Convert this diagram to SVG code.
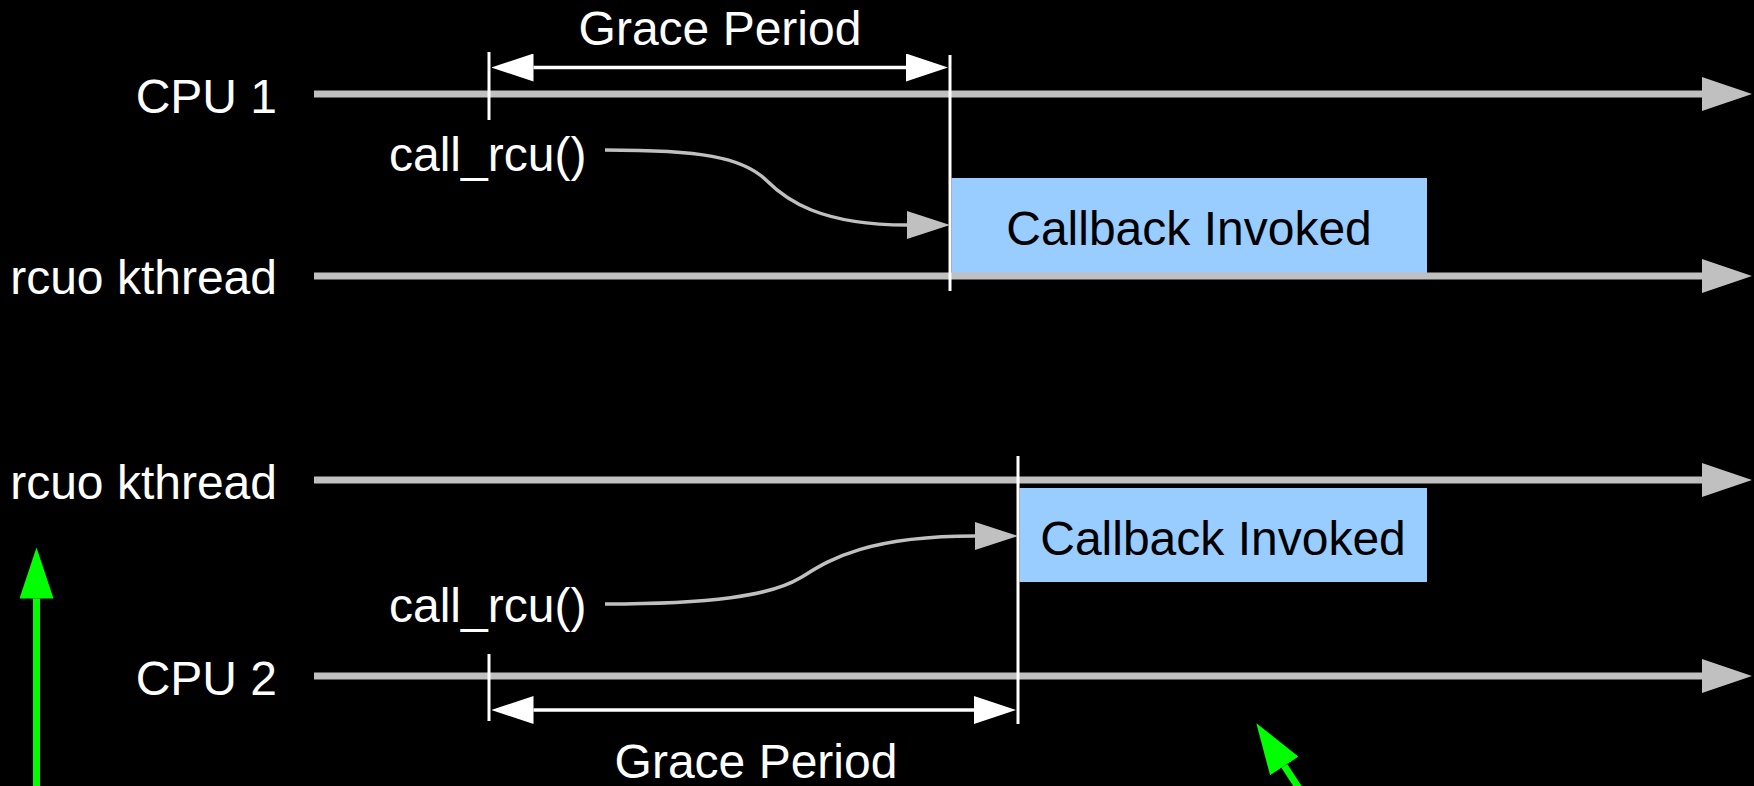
<svg xmlns="http://www.w3.org/2000/svg" width="1754" height="786" viewBox="0 0 1754 786">
  <style>
    text { font-family: "Liberation Sans", Arial, sans-serif; font-size: 48px; }
    .label { fill: #ffffff; }
    .lane-label { fill: #ffffff; text-anchor: end; }
    .box-text { fill: #000000; text-anchor: middle; }
    .mid { text-anchor: middle; }
    .timeline { stroke: #c0c0c0; stroke-width: 7; fill: none; marker-end: url(#bigGray); }
    .tick { stroke: #ffffff; stroke-width: 3; }
    .span { stroke: #ffffff; stroke-width: 3.5; fill: none; marker-start: url(#smallWhite); marker-end: url(#smallWhite); }
    .handoff { stroke: #c0c0c0; stroke-width: 3.5; fill: none; marker-end: url(#smallGray); }
    .pointer { stroke: #00ff00; stroke-width: 7; fill: none; marker-end: url(#bigGreen); }
    .cb-box { fill: #99ccff; }
  </style>
  <defs>
    <marker id="bigGray" markerUnits="userSpaceOnUse" viewBox="0 0 50 34" markerWidth="50" markerHeight="34" refX="0" refY="17" orient="auto">
      <path d="M0,0 L50,17 L0,34 Z" fill="#c0c0c0"/>
    </marker>
    <marker id="bigGreen" markerUnits="userSpaceOnUse" viewBox="0 0 51 34" markerWidth="51" markerHeight="34" refX="0" refY="17" orient="auto">
      <path d="M0,0 L51,17 L0,34 Z" fill="#00ff00"/>
    </marker>
    <marker id="smallWhite" markerUnits="userSpaceOnUse" viewBox="0 0 42 28" markerWidth="42" markerHeight="28" refX="0" refY="14" orient="auto-start-reverse">
      <path d="M0,0 L42,14 L0,28 Z" fill="#ffffff"/>
    </marker>
    <marker id="smallGray" markerUnits="userSpaceOnUse" viewBox="0 0 43 28" markerWidth="43" markerHeight="28" refX="0" refY="14" orient="auto">
      <path d="M0,0 L43,14 L0,28 Z" fill="#c0c0c0"/>
    </marker>
  </defs>

  <rect x="0" y="0" width="1754" height="786" fill="#000000"/>

  <!-- callback boxes sit under the timelines -->
  <g id="callback-1">
    <rect class="cb-box" x="951.5" y="178" width="475.5" height="96"/>
    <text class="box-text" x="1189" y="245">Callback Invoked</text>
  </g>
  <g id="callback-2">
    <rect class="cb-box" x="1019.5" y="488" width="407.5" height="94"/>
    <text class="box-text" x="1223" y="555">Callback Invoked</text>
  </g>

  <g id="connectors">
    <!-- timelines -->
    <line class="timeline" x1="314" y1="94" x2="1702" y2="94"/>
    <line class="timeline" x1="314" y1="276" x2="1702" y2="276"/>
    <line class="timeline" x1="314" y1="480" x2="1702" y2="480"/>
    <line class="timeline" x1="314" y1="676" x2="1702" y2="676"/>

    <!-- grace period boundaries -->
    <line class="tick" x1="489" y1="52" x2="489" y2="120"/>
    <line class="tick" x1="950" y1="55" x2="950" y2="291"/>
    <line class="tick" x1="489" y1="654" x2="489" y2="721"/>
    <line class="tick" x1="1018" y1="456" x2="1018" y2="724"/>

    <!-- grace period spans -->
    <line class="span" x1="533.5" y1="67.5" x2="906" y2="67.5"/>
    <line class="span" x1="533.5" y1="710" x2="974" y2="710"/>

    <!-- call_rcu() hand-off to the rcuo kthread -->
    <path class="handoff" d="M605,150 C700,150 742,157 766,180 C786,200 820,225 907,225"/>
    <path class="handoff" d="M605,604 C710,604 770,596 800,578 C825,563 860,536 975,536"/>

    <!-- green pointers -->
    <line class="pointer" x1="36.5" y1="800" x2="36.5" y2="598.5"/>
    <line class="pointer" x1="1306" y1="799" x2="1284.3" y2="765.9"/>
  </g>

  <g id="lane-cpu1">
    <text class="lane-label" x="277" y="113">CPU 1</text>
  </g>
  <g id="lane-rcuo-1">
    <text class="lane-label" x="277" y="294">rcuo kthread</text>
  </g>
  <g id="lane-rcuo-2">
    <text class="lane-label" x="277" y="499">rcuo kthread</text>
  </g>
  <g id="lane-cpu2">
    <text class="lane-label" x="277" y="695">CPU 2</text>
  </g>

  <g id="call-rcu-1">
    <text class="label" x="389" y="171">call_rcu()</text>
  </g>
  <g id="call-rcu-2">
    <text class="label" x="389" y="622">call_rcu()</text>
  </g>

  <g id="grace-period-1">
    <text class="label mid" x="720" y="45">Grace Period</text>
  </g>
  <g id="grace-period-2">
    <text class="label mid" x="756" y="778">Grace Period</text>
  </g>
</svg>
